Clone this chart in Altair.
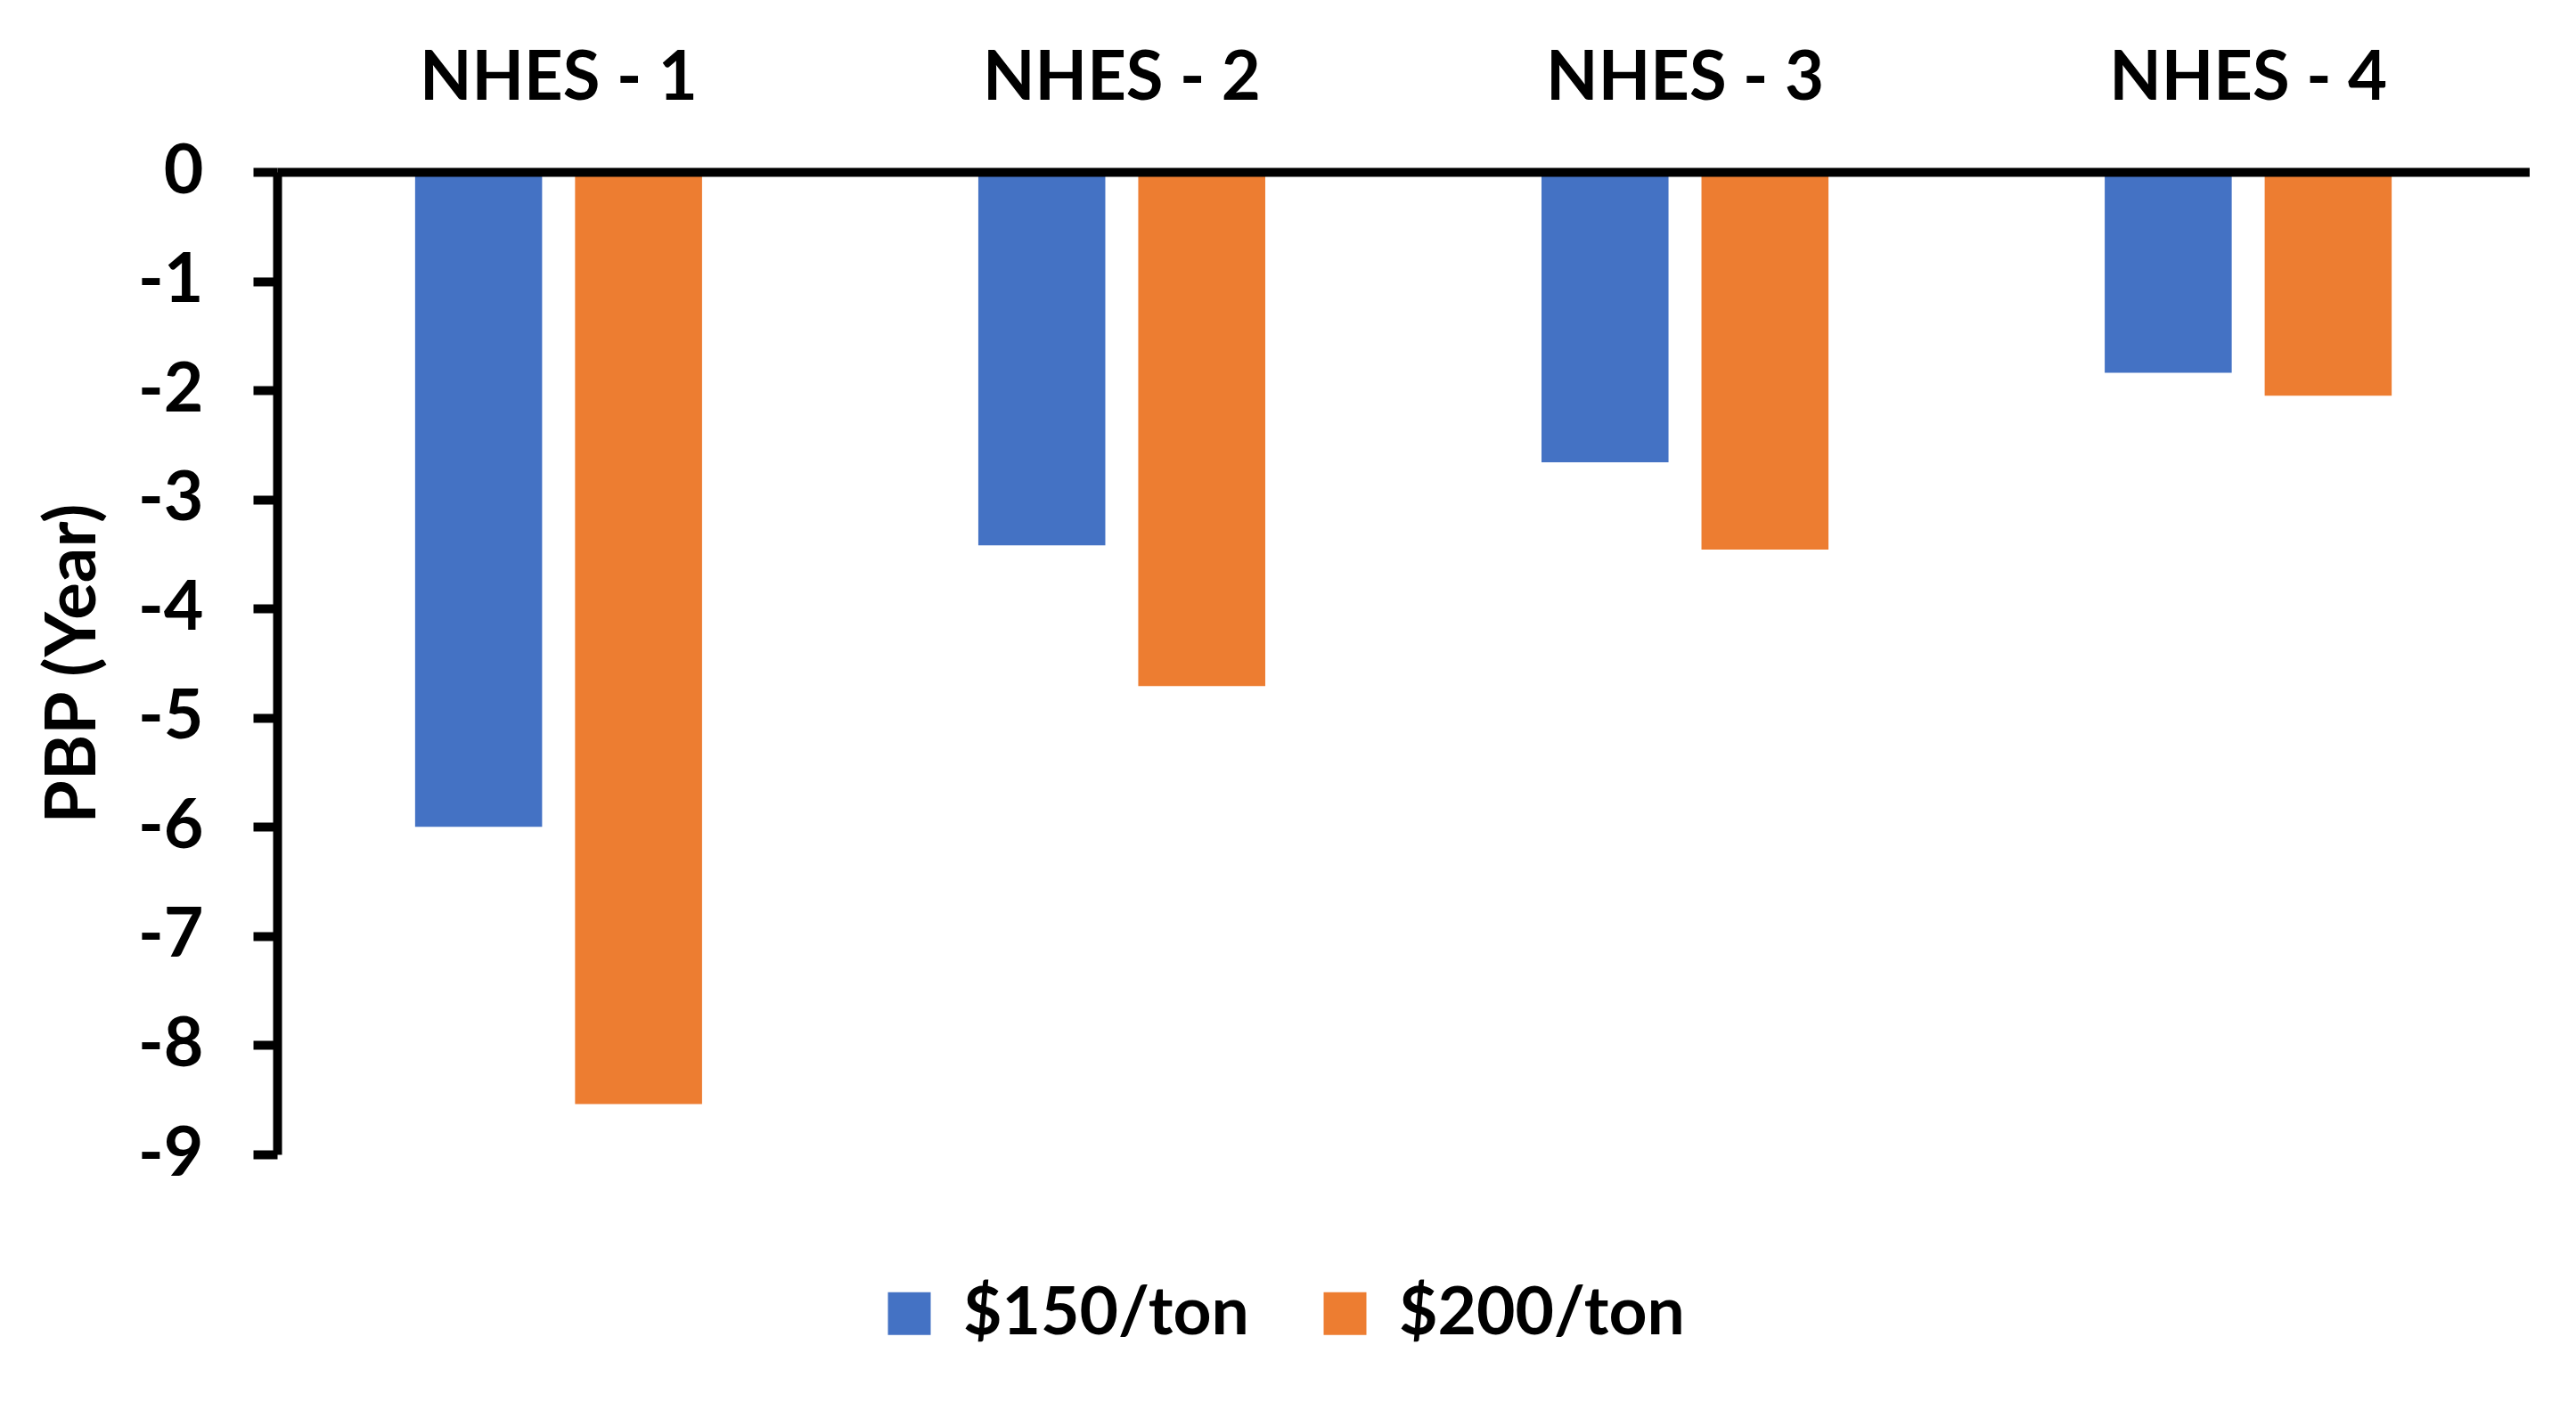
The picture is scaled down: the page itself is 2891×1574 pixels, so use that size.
import altair as alt
import pandas as pd

categories = ["NHES - 1", "NHES - 2", "NHES - 3", "NHES - 4"]
series = ["$150/ton", "$200/ton"]
pbp_150 = [-6.00, -3.42, -2.66, -1.84]
pbp_200 = [-8.54, -4.71, -3.46, -2.05]
colors = ["#4472C4", "#ED7D31"]
y_ticks = [0, -1, -2, -3, -4, -5, -6, -7, -8, -9]

rows = []
for c, a, b in zip(categories, pbp_150, pbp_200):
    rows.append({"category": c, "series": series[0], "pbp": a})
    rows.append({"category": c, "series": series[1], "pbp": b})
df = pd.DataFrame(rows)

FONT = "Lato"

chart = alt.Chart(df).mark_bar().encode(
    x=alt.X(
        "category:N",
        sort=categories,
        scale=alt.Scale(paddingInner=0.4905, paddingOuter=0.245),
        axis=alt.Axis(
            orient="top", title=None, labelAngle=0, ticks=False,
            domainColor="black", domainWidth=10,
            labelFont=FONT, labelFontSize=76, labelFontWeight="bold",
            labelColor="black", labelPadding=66, labelLimit=2000, zindex=1,
        ),
    ),
    xOffset=alt.XOffset(
        "series:N", sort=series,
        scale=alt.Scale(paddingInner=0.206, paddingOuter=0),
    ),
    y=alt.Y(
        "pbp:Q",
        scale=alt.Scale(domain=[-9, 0], nice=False, zero=True),
        axis=alt.Axis(
            values=y_ticks, title="PBP (Year)", labelExpr="datum.value + ''",
            tickSize=27, tickWidth=10, tickColor="black",
            domainColor="black", domainWidth=10,
            labelFont=FONT, labelFontSize=77, labelFontWeight="bold",
            labelColor="black", labelPadding=56, labelFlush=False,
            titleFont=FONT, titleFontSize=78, titleFontWeight="bold",
            titleColor="black", titlePadding=32,
            grid=False, zindex=1,
        ),
    ),
    color=alt.Color(
        "series:N", sort=series,
        scale=alt.Scale(domain=series, range=colors),
        legend=alt.Legend(
            title=None, orient="none", direction="horizontal",
            legendX=672, legendY=1244,
            symbolType="square", symbolSize=2304, symbolStrokeWidth=0,
            symbolOpacity=1,
            labelFont=FONT, labelFontSize=75, labelFontWeight="bold",
            labelColor="black", labelOffset=23, columnPadding=70,
            padding=0, labelLimit=1000,
        ),
    ),
).properties(
    width=2528, height=1103,
    padding={"left": 36, "top": 42, "right": 0, "bottom": 0},
).configure_view(stroke=None)

chart.save("out.html", embed_options={"renderer": "svg", "actions": False})
